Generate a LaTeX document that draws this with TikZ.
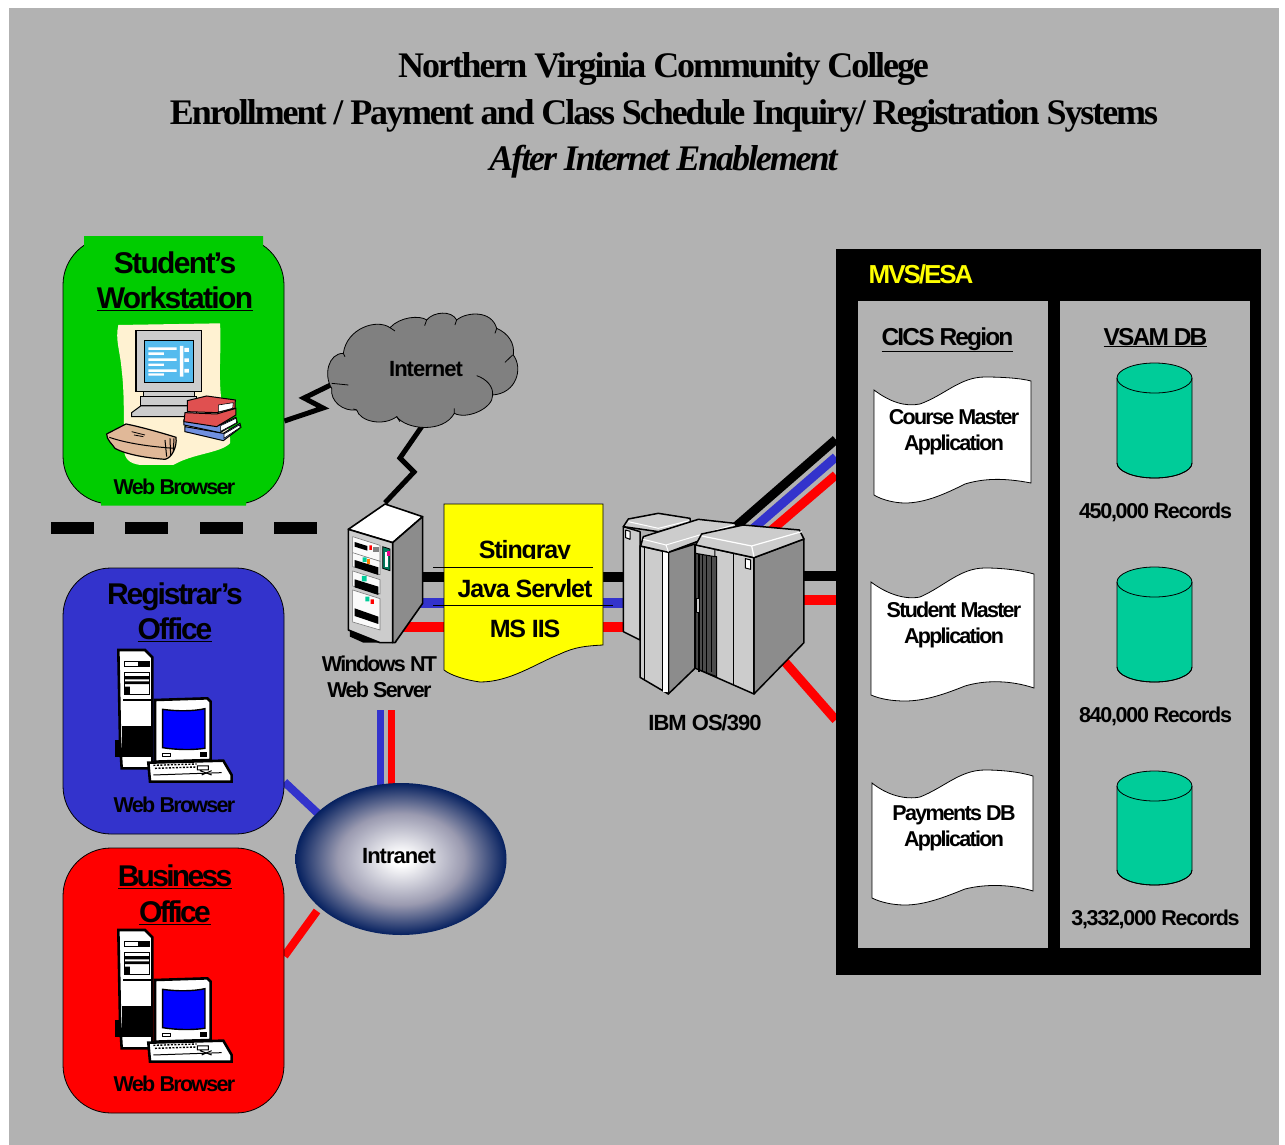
\documentclass[tikz,border=0pt]{standalone}
\usepackage{fontspec}
\setmainfont{Liberation Sans}
\newfontfamily\tfont[LetterSpace=-5.8]{Liberation Serif}
\newfontfamily\sfont[LetterSpace=-4.5]{Liberation Sans}
\newfontfamily\lfont[LetterSpace=-8]{Liberation Sans}
\newfontfamily\rfont[LetterSpace=-6]{Liberation Sans}
\newfontfamily\bfont[LetterSpace=-5.5]{Liberation Sans}
\newfontfamily\bfontb[LetterSpace=-9]{Liberation Sans}
\newfontfamily\bfontr[LetterSpace=-7]{Liberation Sans}
\newfontfamily\hfont[LetterSpace=-7.5]{Liberation Sans}
\usetikzlibrary{shapes.geometric,backgrounds}
\definecolor{bg}{HTML}{B2B2B2}
\definecolor{blu}{HTML}{3333CC}
\definecolor{grn}{HTML}{00CC00}
\definecolor{tealc}{HTML}{00CC99}
\definecolor{navyd}{HTML}{05205F}
\definecolor{midg}{HTML}{9A9AB0}
\definecolor{cream}{HTML}{FFF2D2}
\definecolor{lg}{HTML}{CCCCCC}
\definecolor{mg}{HTML}{8C8C8C}
\definecolor{cloudg}{HTML}{808080}
\definecolor{yel}{RGB}{255,255,0}
\definecolor{pureblue}{RGB}{0,0,255}
\definecolor{screenb}{HTML}{55BBEE}
\definecolor{bookr}{HTML}{E05050}
\definecolor{bookb}{HTML}{7090E0}
\definecolor{bagc}{HTML}{E0B898}
\pgfdeclareradialshading{intra}{\pgfpoint{0bp}{0bp}}{color(0bp)=(white); color(2bp)=(white); color(15bp)=(midg); color(25bp)=(navyd); color(50bp)=(navyd)}
\tikzset{
 wire/.style={line width=10pt,line cap=butt},
 wirek/.style={wire,black},
 wireb/.style={wire,blu},
 wirer/.style={wire,red},
 zig/.style={line width=5pt,black,miter limit=10},
 office/.style={draw=black,line width=0.8pt,rounded corners=48pt,minimum width=221pt,inner sep=0pt},
 big/.style={font=\bfont\bfseries\fontsize{30}{35.5}\selectfont,align=center,inner sep=0pt},
 lab/.style={font=\lfont\bfseries\fontsize{21.5}{26}\selectfont,align=center,inner sep=0pt},
 labw/.style={font=\sfont\bfseries\fontsize{22}{26}\selectfont,align=center,inner sep=0pt},
 labr/.style={font=\rfont\bfseries\fontsize{21.5}{26}\selectfont,align=center,inner sep=0pt},
 laby/.style={font=\sfont\bfseries\fontsize{25}{30}\selectfont,inner sep=0pt},
 head/.style={font=\hfont\bfseries\fontsize{24.5}{30}\selectfont,inner sep=0pt,anchor=base},
 ttl/.style={font=\tfont\bfseries\fontsize{36}{46}\selectfont,inner sep=0pt},
 paper/.style={fill=white,draw=black,line width=0.8pt},
 ln/.style={draw=black,line width=1pt,line join=round},
 hvy/.style={draw=black,line width=1.6pt,line join=round},
}
\newcommand{\pcicon}[2]{%
\begin{scope}[shift={(#1,#2)},scale=0.3333]
 \fill[black] (76,300) rectangle (100,350);
 \filldraw[fill=white,draw=black,line width=2.6pt] (85,30)--(165,30)--(187,52)--(187,385)--(95,385)--(90,300)--cycle;
 \fill[black] (97,258) rectangle (185,350);
 \fill[black] (99,178) rectangle (185,184);
 \draw[line width=1pt] (105,65) rectangle (178,78);
 \fill[black] (145,65) rectangle (178,78);
 \draw[line width=1pt] (105,97) rectangle (178,162);
 \fill[black] (105,108) rectangle (178,118) (105,124) rectangle (178,132) (105,140) rectangle (120,162);
 \filldraw[fill=white,draw=black,line width=2.6pt] (195,180)--(352,175)--(362,185)--(362,360)--(195,365)--cycle;
 \filldraw[fill=pureblue,draw=black,line width=1.4pt] (218,208) .. controls (260,214) and (310,214) .. (345,206)--(345,325) .. controls (310,330) and (260,330) .. (218,323)--cycle;
 \draw[line width=1pt] (218,340) rectangle (243,350);
 \fill[black] (330,337) rectangle (350,352);
 \filldraw[fill=white,draw=black,line width=2.6pt] (175,368)--(400,362)--(425,405)--(425,425)--(180,425)--cycle;
 \draw[line width=1.4pt,dash pattern=on 2pt off 1.5pt] (190,376)--(320,372) (195,385)--(320,381);
 \draw[line width=1pt] (322,378) rectangle (355,390) (330,392)--(365,405) (365,392)--(335,405);
 \draw[line width=1pt] (190,405)--(395,398);
\end{scope}}
\begin{document}
\begin{tikzpicture}[x=1pt,y=-1pt]
\useasboundingbox (0,0) rectangle (1285,1145);

% nodes
\node[office,fill=grn,minimum height=267pt] (stud) at (173.5,370.5) {};
\node[office,fill=blu,minimum height=266pt] (reg) at (173.5,701) {};
\node[office,fill=red,minimum height=265pt] (bus) at (173.5,980.5) {};
\fill[grn] (84,236) rectangle (263,250) (101,490) rectangle (246,505.5);

% cloud
\begin{scope}[shift={(320,305)},scale=0.3333]
 \filldraw[fill=cloudg,draw=black,line width=0.8pt] (70,145) .. controls (80,70) and (170,40) .. (210,68)
  .. controls (240,35) and (300,30) .. (320,45)
  .. controls (340,20) and (395,15) .. (410,45)
  .. controls (440,20) and (515,15) .. (530,70)
  .. controls (565,85) and (585,115) .. (580,150)
  .. controls (610,190) and (590,265) .. (518,270)
  .. controls (520,310) and (440,345) .. (403,325)
  .. controls (370,385) and (260,375) .. (230,335)
  .. controls (190,365) and (120,350) .. (110,315)
  .. controls (70,320) and (30,290) .. (35,250)
  .. controls (10,210) and (25,145) .. (70,145) -- cycle;
 \draw[line width=0.8pt] (470,212) .. controls (500,222) and (520,245) .. (518,270)
  (578,150) -- (555,172) (35,235) -- (85,240) (320,45) -- (314,62) (410,45) -- (405,60) (210,68) -- (225,78) (530,70) -- (525,85) (403,310) -- (403,325) (230,335) -- (240,350) (110,315) -- (100,312) (70,145) -- (75,155);
\end{scope}
\node[minimum width=190pt,minimum height=113pt,inner sep=0pt] (net) at (423,368) {};
\node[labw] (nettxt) at (426,369) {Internet};

\shade[shading=intra] (401,859) ellipse [x radius=105.5,y radius=76];
\node[ellipse,minimum width=211pt,minimum height=152pt,inner sep=0pt] (intra) at (401,859) {};
\node[labw] (intratxt) at (399,856) {Intranet};

\node[fill=black,minimum width=425pt,minimum height=726pt,inner sep=0pt] (mvs) at (1048.5,612) {};
\node[fill=bg,minimum width=190pt,minimum height=647pt,inner sep=0pt] (cics) at (953,624.5) {};
\node[fill=bg,minimum width=190pt,minimum height=647pt,inner sep=0pt] (vsam) at (1155,624.5) {};

\node[minimum width=76pt,minimum height=140pt,inner sep=0pt] (srv) at (385,573) {};
\node[minimum width=182pt,minimum height=184pt,inner sep=0pt] (mf) at (714,604) {};
\coordinate (regend) at (326,821);
\coordinate (busend) at (317,911);

% background and connectors
\begin{pgfonlayer}{background}
 \fill[white] (0,0) rectangle (1285,1145);
 \fill[bg] (9,8) rectangle (1279,1145);
 \draw[zig] (stud.east |- 0,421) -- (323,408) -- (304,398) -- (345,378);
 \draw[zig] (net.south) -- (400,458) -- (414,472) -- (srv.north);
 \draw[wirek] (srv.center |- 0,577) -- (mf.center |- 0,577);
 \draw[wireb] (srv.center |- 0,603) -- (mf.center |- 0,603);
 \draw[wirer] (srv.center |- 0,627) -- (mf.center |- 0,627);
 \draw[wirek] (mf.center |- 0,576) -- (mvs.west |- 0,576);
 \draw[wirer] (mf.center |- 0,600) -- (mvs.west |- 0,600);
 \draw[line width=9pt,black] (725,536) -- (mvs.west |- 0,439.5);
 \draw[line width=9pt,blu] (740,540) -- (mvs.west |- 0,457);
 \draw[line width=9pt,red] (760,540) -- (mvs.west |- 0,475);
 \draw[line width=9pt,red] (770,645) -- (mvs.west |- 0,720);
 \draw[line width=7pt,blu] (380,710) -- (380,800);
 \draw[line width=7pt,red] (391,710) -- (391,800);
 \draw[line width=8pt,blu] (reg.east |- 0,782) -- (regend);
 \draw[line width=8pt,red] (bus.east |- 0,956) -- (busend);
 \foreach \a/\b in {51/94,125/168,200/243,274/317}
  \fill[black] (\a,522) rectangle (\b,534);
\end{pgfonlayer}

% title
\node[ttl] (t1) at (663.5,69) {Northern Virginia Community College};
\node[ttl] (t2) at (664,116) {Enrollment / Payment and Class Schedule Inquiry/ Registration Systems};
\node[ttl,font=\tfont\bfseries\itshape\fontsize{36}{46}\selectfont] (t3) at (663.5,162) {After Internet Enablement};

% office labels
\node[big] (s1) at (175,281.5) {Student’s\\\underline{Workstation}};
\node[lab] (s2) at (174.5,487) {Web Browser};
\node[big,font=\bfontr\bfseries\fontsize{30}{35.5}\selectfont] (r1) at (175,612.5) {Registrar’s\\\underline{Office}};
\node[lab] (r2) at (174.5,805) {Web Browser};
\node[big,font=\bfontb\bfseries\fontsize{30}{35.5}\selectfont] (b1) at (175,895) {\underline{Business}\\\underline{Office}};
\node[lab] (b2) at (174.5,1084) {Web Browser};

% workstation clipart
\begin{scope}[shift={(50,230)},scale=0.3333]
 \fill[cream] (205,285)--(510,280) .. controls (515,350) and (505,420) .. (513,500) .. controls (520,560) and (545,610) .. (540,640) .. controls (510,670) and (430,670) .. (370,705)--(270,705) .. controls (240,700) and (225,690) .. (222,660) .. controls (220,600) and (225,500) .. (215,420) .. controls (210,360) and (195,330) .. (205,285)--cycle;
 \filldraw[fill=lg,draw=black,line width=1.4pt] (258,302)--(455,302)--(455,485)--(258,485)--cycle;
 \filldraw[fill=screenb,draw=black,line width=1.4pt] (283,332)--(430,332)--(430,458)--(283,458)--cycle;
 \fill[white] (295,352) rectangle (380,360) (295,367) rectangle (342,375) (295,385) rectangle (380,393) (295,401) rectangle (342,408) (295,418) rectangle (380,426) (295,430) rectangle (342,437) (390,348) rectangle (400,440) (403,354) rectangle (417,366) (403,385) rectangle (417,396) (403,417) rectangle (417,428);
 \filldraw[fill=lg,draw=black,line width=1pt] (280,485)--(435,485)--(435,500)--(280,500)--cycle;
 \filldraw[fill=lg,draw=black,line width=1pt] (272,500)--(440,500)--(440,528)--(272,528)--cycle;
 \filldraw[fill=lg,draw=black,line width=1pt] (272,528)--(440,528)--(440,560)--(245,560)--(245,548)--cycle;
 % bag
 \filldraw[fill=bagc,draw=black,line width=1.2pt] (170,612)--(228,582) .. controls (270,590) and (340,610) .. (378,622) .. controls (382,650) and (365,685) .. (345,688) .. controls (300,685) and (230,675) .. (195,655) .. controls (185,640) and (170,630) .. (170,612)--cycle;
 \draw[line width=1pt] (178,622) .. controls (230,640) and (300,650) .. (372,655);
 \draw[line width=0.8pt] (245,605)--(285,615) (252,615)--(280,620);
 \draw[line width=1pt] (345,630)--(350,680) (360,625)--(362,675) (372,625)--(370,665);
 % books
 \filldraw[fill=bookb,draw=black,line width=1pt] (405,605)--(520,632)--(573,592)--(570,580)--(520,610)--(405,590)--cycle;
 \filldraw[fill=white,draw=black,line width=0.6pt] (522,612)--(568,585)--(571,592)--(522,625)--cycle;
 \filldraw[fill=bookb,draw=black,line width=1pt] (402,585)--(510,608)--(562,578)--(558,562)--(510,585)--(402,570)--cycle;
 \filldraw[fill=white,draw=black,line width=0.6pt] (512,587)--(558,565)--(560,578)--(512,604)--cycle;
 \filldraw[fill=bookr,draw=black,line width=1pt] (405,548)--(500,552)--(558,535)--(558,555)--(500,590)--(402,575)--cycle;
 \filldraw[fill=bookr,draw=black,line width=1pt] (412,512)--(470,498)--(556,510)--(555,535)--(500,548)--(412,545)--cycle;
 \filldraw[fill=white,draw=black,line width=0.6pt] (505,525)--(550,518)--(548,535)--(505,546)--cycle;
\end{scope}

\pcicon{90}{640}
\pcicon{90}{920}

% server
\begin{scope}[shift={(280,480)},scale=0.3333]
 \fill[black] (210,450)--(340,485)--(350,488)--(250,488)--(210,470)--cycle;
 \filldraw[fill=white,hvy] (205,148)--(315,72)--(428,110)--(338,188)--cycle;
 \filldraw[fill=mg,hvy] (338,188)--(428,110)--(428,370)--(345,488)--(338,488)--cycle;
 \filldraw[fill=lg,hvy] (205,148)--(338,188)--(338,488)--(300,488)--(205,450)--cycle;
 \foreach \y/\z in {170/232,218/272,273/330,330/438}{
  \filldraw[fill=white!90!lg,draw=lg!60!black,line width=0.6pt] (218,\y)--(300,\y+26)--(300,\z+12)--(218,\z-12)--cycle;
 }
 \fill[black] (224,186)--(262,198)--(262,212)--(224,200)--cycle;
 \fill[black] (224,240)--(295,262)--(295,285)--(224,262)--cycle;
 \fill[black] (224,298)--(295,320)--(295,345)--(224,322)--cycle;
 \fill[black] (224,385)--(295,410)--(295,432)--(224,408)--cycle;
 \fill[red] (268,196) rectangle (276,210) (272,358) rectangle (282,372);
 \fill[tealc] (248,232) rectangle (260,246) (246,288) rectangle (260,304) (256,350) rectangle (268,364);
 \fill[gray] (278,200) rectangle (296,216);
 \fill[orange] (262,236) rectangle (270,252);
 \filldraw[fill=tealc!60!black,draw=black,line width=0.8pt] (308,200)--(330,207)--(330,272)--(308,265)--cycle;
 \fill[white] (314,215) rectangle (324,262);
 \fill[magenta] (322,214) rectangle (330,228);
\end{scope}
\node[lab] (srvlab) at (379.5,677) {Windows NT\\Web Server};

% yellow document
\filldraw[fill=yel,draw=black,line width=0.8pt] (444,504)--(603,504)--(603,645) .. controls (585,646) and (575,647) .. (560,654) .. controls (535,664) and (510,682) .. (480,682) .. controls (465,680) and (450,675) .. (444,670)--cycle;
\node[laby,anchor=base] (sting) at (525,558) {Stingray};
\fill[yel] (450,559) rectangle (600,567);
\node[laby] (java) at (525,589) {Java Servlet};
\node[laby] (iis) at (525,629) {MS IIS};
\draw[line width=0.7pt,black] (433,567) -- (592.5,567);
\draw[line width=0.7pt,black] (433,605) -- (613,605);

% mainframe
\begin{scope}[shift={(600,420)},scale=0.3333]
 \filldraw[fill=lg,ln,line width=1.5pt] (70,320)--(120,335)--(120,660)--(70,635)--cycle;
 \filldraw[fill=lg,ln,line width=1.5pt] (70,320)--(85,297)--(175,280)--(270,295)--(272,310)--(175,335)--cycle;
 \draw[line width=1pt,white] (85,305)--(175,325)--(268,302);
 \filldraw[fill=white,ln] (77,330)--(90,334)--(90,358)--(77,353)--cycle;
 \filldraw[fill=mg,ln,line width=1.5pt] (205,397)--(285,372)--(285,745)--(205,822)--cycle;
 \filldraw[fill=lg,ln,line width=1.5pt] (120,378)--(205,397)--(205,822)--(120,772)--cycle;
 \draw[line width=1.2pt] (134,382)--(134,782) (188,394)--(188,812);
 \fill[white] (190,395) rectangle (203,815);
 \filldraw[fill=lg,ln,line width=1.5pt] (122,378)--(130,350)--(295,298)--(405,310)--(410,320)--(205,397)--cycle;
 \draw[line width=1pt,white] (130,358)--(198,375)--(205,395) (198,375)--(400,315);
 \filldraw[fill=mg,ln,line width=1.5pt] (462,413)--(612,357)--(612,668)--(462,822)--cycle;
 \filldraw[fill=lg,ln,line width=1.5pt] (287,375)--(462,413)--(462,822)--(287,745)--cycle;
 \filldraw[fill=black!70,ln] (287,400)--(350,410)--(350,770)--(287,745)--cycle;
 \foreach \x in {297,307,320,335}{\draw[line width=1.5pt,black] (\x,403)--(\x,757);}
 \filldraw[fill=lg,ln] (287,375)--(345,388)--(345,410)--(287,400)--cycle;
 \filldraw[fill=lg,ln,line width=0.8pt] (289,535)--(298,535)--(298,578)--(289,578)--cycle;
 \draw[line width=1.6pt] (400,403)--(400,795);
 \filldraw[fill=lg,ln,line width=1.5pt] (287,375)--(305,342)--(430,315)--(598,330)--(612,357)--(462,413)--cycle;
 \draw[line width=1.2pt,white] (305,348)--(455,378)--(462,410) (455,378)--(605,335);
 \filldraw[fill=white,ln] (436,416)--(452,420)--(452,448)--(436,444)--cycle;
\end{scope}
\node[labw] (mflab) at (705,723) {IBM OS/390};

% MVS
\node[head,text=yel,font=\lfont\bfseries\fontsize{26}{30}\selectfont] (mvsl) at (921,283) {MVS/ESA};
\node[head] (cicsl) at (947.5,345) {\underline{CICS Region}};
\node[head] (vsaml) at (1155.5,345) {\underline{VSAM DB}};

% documents
\filldraw[paper] (874,390) .. controls (890,402) and (905,407) .. (920,404) .. controls (945,395) and (960,377) .. (985,377) .. controls (1000,377) and (1020,378) .. (1031,381)--(1031,483) .. controls (1005,478) and (985,478) .. (965,484) .. controls (945,494) and (925,503) .. (905,503) .. controls (895,503) and (882,500) .. (874,495)--cycle;
\node[lab] (d1) at (954,432.5) {Course Master\\Application};
\filldraw[paper] (871,582) .. controls (887,594) and (905,600) .. (920,597) .. controls (945,586) and (960,568) .. (985,568) .. controls (1002,568) and (1020,570) .. (1034,574)--(1034,688) .. controls (1010,680) and (985,680) .. (965,686) .. controls (945,694) and (925,701) .. (905,701) .. controls (892,701) and (880,699) .. (871,695)--cycle;
\node[lab] (d2) at (954,624.5) {Student Master\\Application};
\filldraw[paper] (872,783) .. controls (887,795) and (905,800) .. (920,797) .. controls (945,787) and (960,770) .. (985,770) .. controls (1002,770) and (1020,772) .. (1033,776)--(1033,891) .. controls (1010,884) and (985,884) .. (965,889) .. controls (945,897) and (925,905) .. (905,905) .. controls (892,905) and (880,902) .. (872,898)--cycle;
\node[lab] (d3) at (954,828) {Payments DB\\Application};

% cylinders
\foreach \n/\t/\b in {c1/378/463,c2/582/667,c3/786/870}{
 \filldraw[fill=tealc,draw=black,line width=0.8pt] (1117,\t) -- (1117,\b) arc[start angle=180,end angle=360,x radius=37.5,y radius=-15] -- (1192,\t) arc[start angle=0,end angle=180,x radius=37.5,y radius=-15] -- cycle;
 \draw[line width=0.8pt] (1117,\b) arc[start angle=180,end angle=0,x radius=37.5,y radius=15];
 \draw[line width=0.8pt] (1117,\t) arc[start angle=180,end angle=0,x radius=37.5,y radius=15];
}
\node[labr] (n1) at (1155.5,512) {450,000 Records};
\node[labr] (n2) at (1155.5,716) {840,000 Records};
\node[labr] (n3) at (1155.5,919) {3,332,000 Records};
\end{tikzpicture}
\end{document}
